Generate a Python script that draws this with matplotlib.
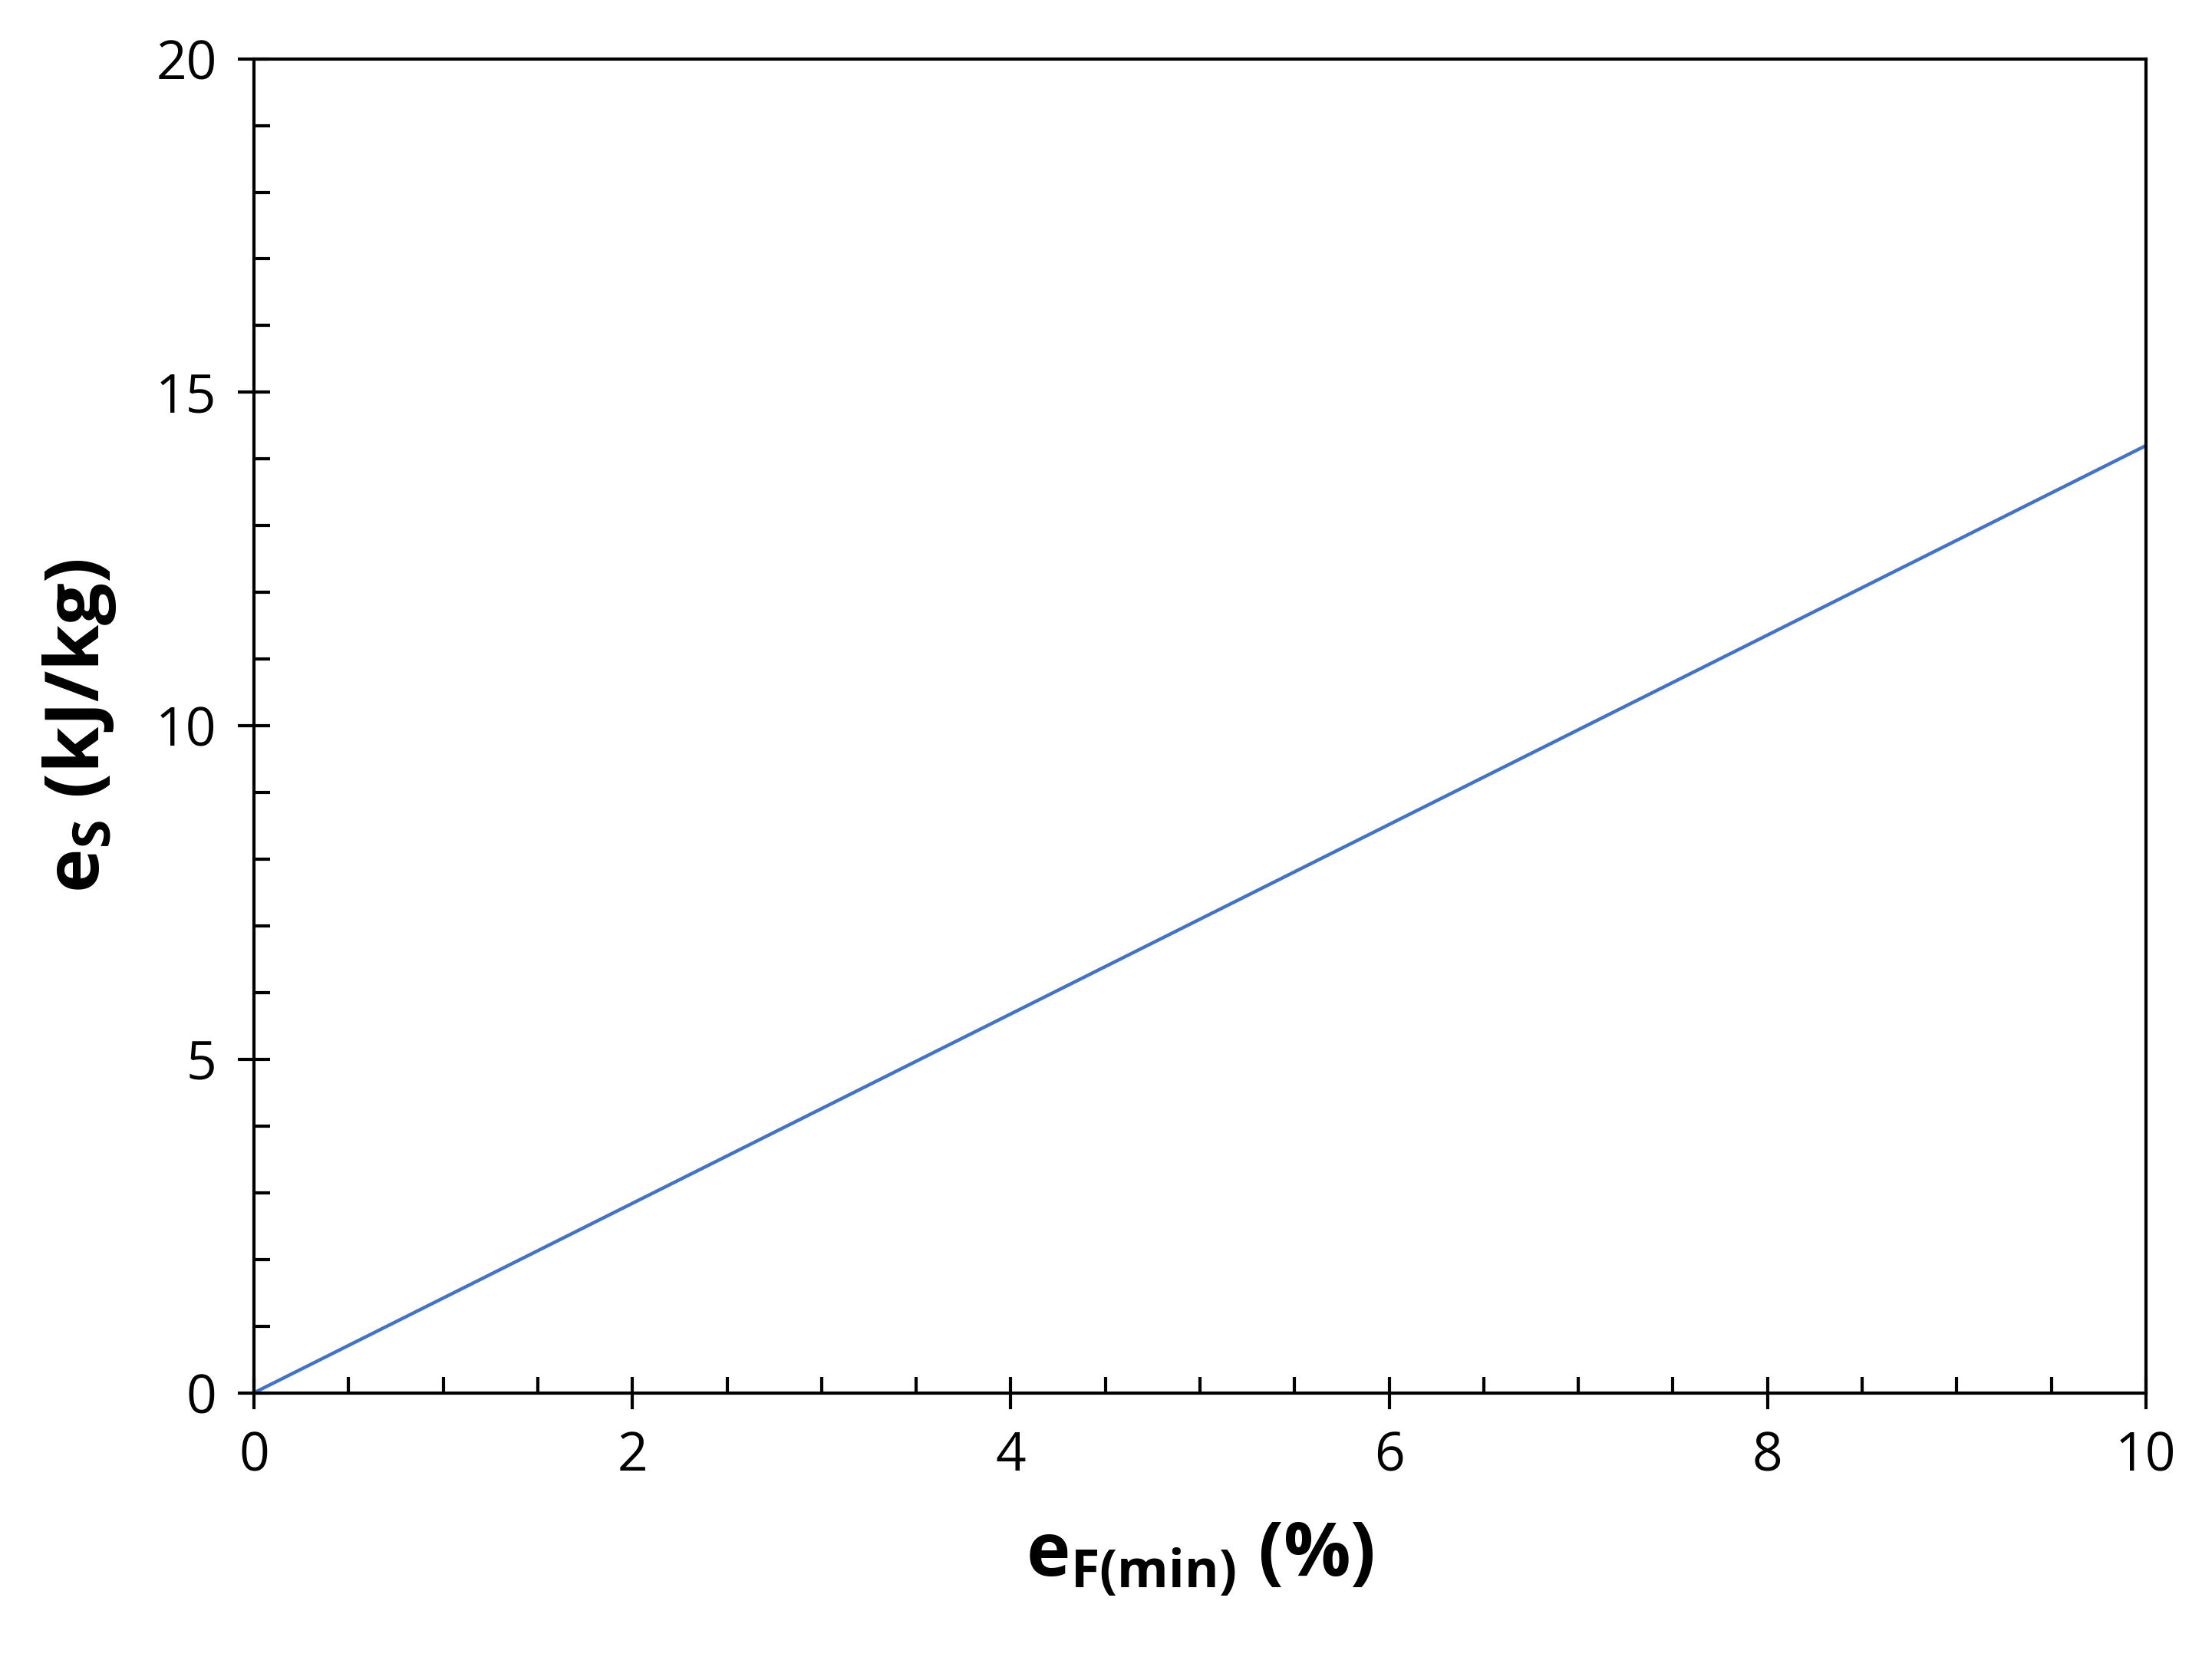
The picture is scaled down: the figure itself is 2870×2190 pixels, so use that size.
import matplotlib
matplotlib.use("Agg")
import matplotlib.pyplot as plt
from matplotlib.ticker import MultipleLocator

x_vals = [0, 10]
y_vals = [0, 14.2]

plt.rcParams['font.family'] = ['Open Sans', 'DejaVu Sans']
plt.rcParams['mathtext.fontset'] = 'custom'
plt.rcParams['mathtext.rm'] = 'Open Sans'
plt.rcParams['mathtext.bf'] = 'Open Sans:bold'
fig = plt.figure(figsize=(28.7, 21.9), dpi=100)
ax = fig.add_axes([0.1154, 0.171, 0.8591, 0.794])
ax.plot(x_vals, y_vals, color='#4472C4', lw=3.2)
ax.set_xlim(0, 10)
ax.set_ylim(0, 20)
ax.xaxis.set_major_locator(MultipleLocator(2))
ax.xaxis.set_minor_locator(MultipleLocator(0.5))
ax.yaxis.set_major_locator(MultipleLocator(5))
ax.yaxis.set_minor_locator(MultipleLocator(1))
ax.tick_params(which='major', direction='inout', length=30, width=3, labelsize=50, pad=20)
ax.tick_params(which='minor', direction='in', length=15, width=3)
for s in ax.spines.values():
    s.set_linewidth(3)
ax.set_xlabel(r'$\mathbf{e_{F(min)}}$ (%)', fontsize=70, fontweight='bold', labelpad=35)
ax.set_ylabel(r'$\mathbf{e_{S}}$ (kJ/kg)', fontsize=70, fontweight='bold', labelpad=35)
fig.savefig('out.png', dpi=100)
